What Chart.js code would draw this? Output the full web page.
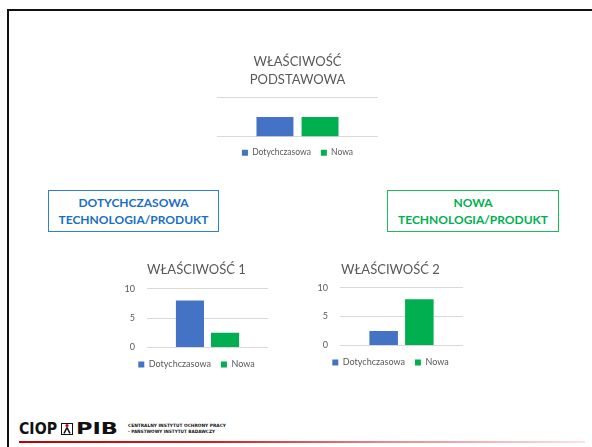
<!DOCTYPE html>
<html lang="pl">
<head>
<meta charset="utf-8">
<title>Właściwość podstawowa</title>
<script src="https://cdn.jsdelivr.net/npm/chart.js@4.4.0/dist/chart.umd.min.js"></script>
<style>
  html, body { margin: 0; padding: 0; background: #fff; }
  body { width: 592px; height: 447px; position: relative; overflow: hidden; font-family: Lato, "Open Sans", sans-serif; }
  .frame-top { position: absolute; left: 7px; top: 9px; width: 585px; height: 2px; background: #111; }
  .frame-left { position: absolute; left: 7px; top: 9px; width: 2px; height: 438px; background: #111; }
  canvas { position: absolute; }
  .box { position: absolute; box-sizing: border-box; height: 42px; font-weight: 700; font-size: 12px;
         line-height: 17px; text-align: center; padding-top: 3px; }
  .box.blue { left: 48px; top: 190px; width: 171px; border: 1.5px solid #2f7fd0; color: #1a6fc4; }
  .box.green { left: 387px; top: 190px; width: 172px; border: 1.5px solid #1dba55; color: #00b050; }
  .logo { position: absolute; left: 19px; top: 418px; }
  .redline { position: absolute; left: 19px; top: 441px; width: 566px; height: 2px;
             background: linear-gradient(to right, #c00000 0%, #d42020 35%, #e88890 65%, #fbe2e6 100%); }
</style>
</head>
<body>
<div class="frame-top"></div>
<div class="frame-left"></div>

<canvas id="chartBase" width="195" height="122" style="left:200px; top:45px;"></canvas>
<canvas id="chartProp1" width="143" height="121" style="left:125px; top:258px;"></canvas>
<canvas id="chartProp2" width="145" height="120" style="left:318px; top:257px;"></canvas>

<div class="box blue">DOTYCHCZASOWA<br>TECHNOLOGIA/PRODUKT</div>
<div class="box green">NOWA<br>TECHNOLOGIA/PRODUKT</div>

<svg class="logo" width="230" height="20" viewBox="0 0 230 20">
  <text x="0" y="16" font-family="DejaVu Sans" font-weight="900" font-size="15" textLength="38" lengthAdjust="spacingAndGlyphs" fill="#111">CIOP</text>
  <rect x="42.5" y="5.5" width="11" height="11" fill="none" stroke="#111" stroke-width="1"></rect>
  <circle cx="48" cy="7.5" r="1.6" fill="#d00000"></circle>
  <path d="M48 9.5 L45 15.5 M48 9.5 L51 15.5" stroke="#111" stroke-width="1.6" fill="none"></path>
  <text x="57" y="16" font-family="DejaVu Sans" font-weight="900" font-size="15" textLength="42" lengthAdjust="spacingAndGlyphs" fill="#111">PIB</text>
  <text x="109" y="9" font-family="DejaVu Sans" font-weight="700" font-size="4.5" textLength="98" lengthAdjust="spacingAndGlyphs" fill="#111">CENTRALNY INSTYTUT OCHRONY PRACY</text>
  <text x="109" y="15" font-family="DejaVu Sans" font-weight="700" font-size="4.5" textLength="87" lengthAdjust="spacingAndGlyphs" fill="#111">- PAŃSTWOWY INSTYTUT BADAWCZY</text>
</svg>
<div class="redline"></div>

<script>
// series + values
const seriesNames = ["Dotychczasowa", "Nowa"];
const seriesColors = ["#4472c4", "#00b050"];

const baseTitle = ["WŁAŚCIWOŚĆ", "PODSTAWOWA"];
const baseValues = [5, 5];

const prop1Title = "WŁAŚCIWOŚĆ 1";
const prop1Values = [8, 2.5];

const prop2Title = "WŁAŚCIWOŚĆ 2";
const prop2Values = [2.5, 8];

const axisMax = 10;
const axisStep = 5;

const textGrey = "#595959";
const gridGrey = "#d9d9d9";
const fontFamily = "Lato, 'Open Sans', sans-serif";

function makeChart(id, title, values, cfg) {
  const canvas = document.getElementById(id);
  return new Chart(canvas.getContext("2d"), {
    type: "bar",
    data: {
      labels: [""],
      datasets: seriesNames.map((name, i) => ({
        label: name,
        data: [values[i]],
        backgroundColor: seriesColors[i],
        borderWidth: 0,
        categoryPercentage: cfg.catPct,
        barPercentage: cfg.barPct,
      })),
    },
    options: {
      responsive: false,
      animation: false,
      devicePixelRatio: 1,
      layout: { padding: cfg.padding },
      plugins: {
        tooltip: { enabled: false },
        title: {
          display: true,
          text: title,
          color: textGrey,
          font: { family: fontFamily, size: cfg.titleSize, weight: "normal", lineHeight: cfg.titleLH },
          padding: cfg.titlePad,
        },
        legend: {
          position: "bottom",
          // empty legend title only used as a spacer above the items
          title: { display: true, text: "", font: { size: 1, lineHeight: 1 }, padding: { top: 0, bottom: cfg.legendGap } },
          labels: {
            color: textGrey,
            boxWidth: 6,
            boxHeight: 6,
            padding: 10,
            font: { family: fontFamily, size: cfg.legendSize },
          },
        },
      },
      scales: {
        x: { display: false },
        y: {
          min: 0,
          max: axisMax,
          border: { display: false },
          grid: { color: gridGrey, drawTicks: false },
          ticks: {
            display: cfg.showTicks,
            stepSize: cfg.showTicks ? axisStep : axisMax,
            color: textGrey,
            padding: 12,
            font: { family: fontFamily, size: 9 },
          },
          afterFit: (scale) => { scale.width = cfg.yWidth; },
        },
      },
    },
  });
}

makeChart("chartBase", baseTitle, baseValues, {
  catPct: 0.56, barPct: 0.82,
  padding: { left: 17, right: 17, top: 0, bottom: 0 },
  titleSize: 13, titleLH: 1.385, titlePad: { top: 8, bottom: 8 },
  legendSize: 8.5, legendGap: 0.75,
  showTicks: false, yWidth: 0,
});

makeChart("chartProp1", prop1Title, prop1Values, {
  catPct: 0.58, barPct: 0.8,
  padding: 0,
  titleSize: 13, titleLH: 1.2, titlePad: { top: 4, bottom: 11 },
  legendSize: 9, legendGap: 1.5,
  showTicks: true, yWidth: 22,
});

makeChart("chartProp2", prop2Title, prop2Values, {
  catPct: 0.58, barPct: 0.8,
  padding: 0,
  titleSize: 13, titleLH: 1.2, titlePad: { top: 5, bottom: 10 },
  legendSize: 9, legendGap: 1.5,
  showTicks: true, yWidth: 22,
});
</script>
</body>
</html>
